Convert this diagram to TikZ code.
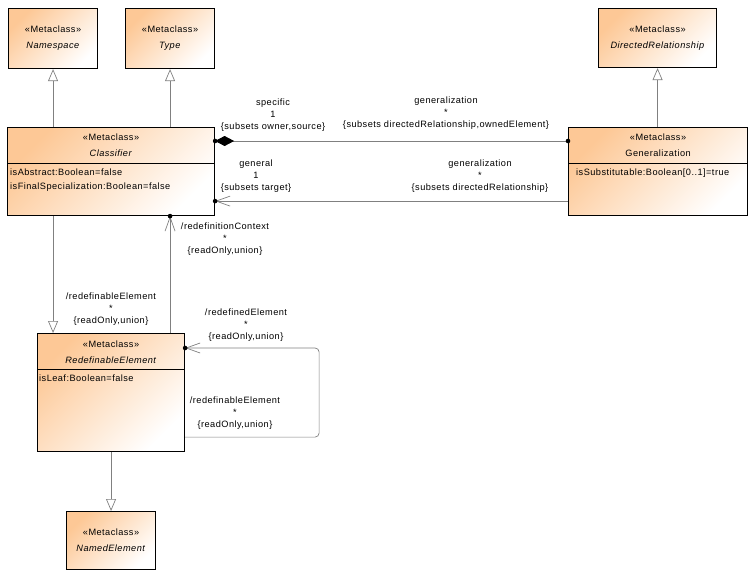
\documentclass[tikz,border=0pt]{standalone}
\usepackage{fontspec}
\setmainfont{Liberation Sans}[LetterSpace=5]
\usetikzlibrary{positioning,arrows.meta}

\definecolor{metaorange}{RGB}{253,200,150}
\definecolor{linegray}{RGB}{128,128,128}

\begin{document}
\begin{tikzpicture}[x=1pt,y=-1pt,
    font=\fontsize{9.2}{12}\selectfont,
    metaclass/.style={draw=black, line width=1.1pt, top color=metaorange, bottom color=white,
        shading angle=45, anchor=north west, inner sep=0pt},
    divider/.style={line width=0.8pt},
    title/.style={align=center, inner sep=0pt, font=\fontsize{9.2}{16}\selectfont},
    attrs/.style={align=left, anchor=north west, inner sep=0pt, font=\fontsize{9.2}{14}\selectfont},
    role/.style={align=center, inner sep=0pt, font=\fontsize{9.2}{12}\selectfont},
    link/.style={draw=linegray, line width=0.7pt},
    gen/.style={link, -{Triangle[open, length=12pt, width=10pt]}},
    nav/.style={link, -{Straight Barb[length=14pt, width=10pt]}},
    comp/.style={link, {Diamond[length=19pt, width=10pt, color=black]}-},
]
    \useasboundingbox (0,0) rectangle (749,573);

    \node[metaclass, minimum width=89pt, minimum height=60pt] (namespace) at (8,8) {};
    \node[title] (namespace-title) at (namespace.center) {«Metaclass»\\\textit{Namespace}};

    \node[metaclass, minimum width=89pt, minimum height=60pt] (type) at (125,8) {};
    \node[title] (type-title) at (type.center) {«Metaclass»\\\textit{Type}};

    \node[metaclass, minimum width=118pt, minimum height=59pt] (dirrel) at (598,8) {};
    \node[title] (dirrel-title) at (dirrel.center) {«Metaclass»\\\textit{DirectedRelationship}};

    \node[metaclass, minimum width=207pt, minimum height=88pt] (classifier) at (7,127) {};
    \node[title] (classifier-title) at ([yshift=-18pt]classifier.north) {«Metaclass»\\\textit{Classifier}};
    \draw[divider] ([yshift=-36pt]classifier.north west) -- ([yshift=-36pt]classifier.north east);
    \node[attrs] (classifier-attrs) at ([xshift=3pt,yshift=-42pt]classifier.north west)
        {isAbstract:Boolean=false\\isFinalSpecialization:Boolean=false};

    \node[metaclass, minimum width=179pt, minimum height=88pt] (generalization) at (568,127) {};
    \node[title] (generalization-title) at ([yshift=-18pt]generalization.north) {«Metaclass»\\Generalization};
    \draw[divider] ([yshift=-36pt]generalization.north west) -- ([yshift=-36pt]generalization.north east);
    \node[attrs] (generalization-attrs) at ([xshift=8pt,yshift=-42pt]generalization.north west)
        {isSubstitutable:Boolean[0..1]=true};

    \node[metaclass, minimum width=147pt, minimum height=118pt] (redefelem) at (37,333) {};
    \node[title] (redefelem-title) at ([yshift=-19pt]redefelem.north) {«Metaclass»\\\textit{RedefinableElement}};
    \draw[divider] ([yshift=-36pt]redefelem.north west) -- ([yshift=-36pt]redefelem.north east);
    \node[attrs] (redefelem-attrs) at ([xshift=2pt,yshift=-42pt]redefelem.north west) {isLeaf:Boolean=false};

    \node[metaclass, minimum width=89pt, minimum height=58pt] (namedelem) at (66,511) {};
    \node[title] (namedelem-title) at (namedelem.center) {«Metaclass»\\\textit{NamedElement}};

    \draw[gen] (namespace.south |- classifier.north) -- (namespace.south);
    \draw[gen] (type.south |- classifier.north) -- (type.south);
    \draw[gen] (dirrel.south |- generalization.north) -- (dirrel.south);
    \draw[gen] (namespace.south |- classifier.south) -- (namespace.south |- redefelem.north);
    \draw[gen] (redefelem.south) -- (redefelem.south |- namedelem.north);

    \coordinate (comp-start) at ([yshift=-14pt]classifier.north east);
    \draw[comp] (comp-start) -- (comp-start -| generalization.west);
    \fill (comp-start) circle (2.3pt);
    \fill (comp-start -| generalization.west) circle (2.3pt);

    \coordinate (general-end) at ([yshift=15pt]classifier.south east);
    \draw[nav] (general-end -| generalization.west) -- (general-end);
    \fill (general-end) circle (2.3pt);

    \draw[nav] (type.south |- redefelem.north) -- (type.south |- classifier.south);
    \fill (type.south |- classifier.south) circle (2.3pt);

    \coordinate (self-top) at ([yshift=-15pt]redefelem.north east);
    \coordinate (self-bottom) at ([yshift=15pt]redefelem.south east);
    \draw[nav, rounded corners=4pt] (self-bottom) -- ++(134,0) |- (self-top);
    \fill (self-top) circle (2.3pt);

    \node[role] (specific) at (273,115) {specific\\1\\\{subsets owner,source\}};
    \node[role] (owned-gen) at (446,113) {generalization\\*\\\{subsets directedRelationship,ownedElement\}};
    \node[role] (general) at (256,176) {general\\1\\\{subsets target\}};
    \node[role] (target-gen) at (480,176) {generalization\\*\\\{subsets directedRelationship\}};
    \node[role] (redef-context) at (225,239) {/redefinitionContext\\*\\\{readOnly,union\}};
    \node[role] (redefinable-a) at (111,309) {/redefinableElement\\*\\\{readOnly,union\}};
    \node[role] (redefined) at (246,325) {/redefinedElement\\*\\\{readOnly,union\}};
    \node[role] (redefinable-b) at (235,413) {/redefinableElement\\*\\\{readOnly,union\}};
\end{tikzpicture}
\end{document}
